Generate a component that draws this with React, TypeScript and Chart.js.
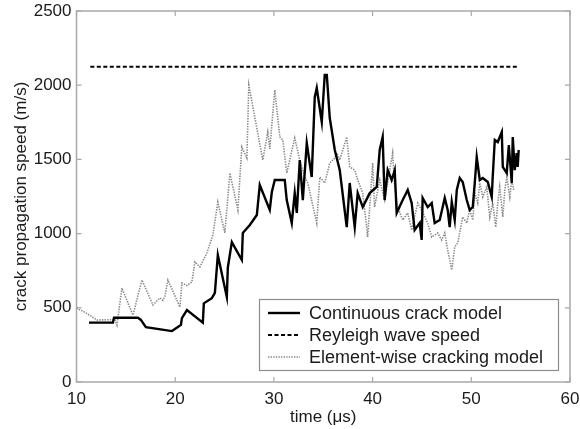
import React, { useEffect, useRef } from 'react';
import { Chart, registerables } from 'chart.js';

Chart.register(...registerables);

const continuousT = [11.27, 13.69, 13.8, 16.22, 16.5, 17.03, 19.67, 20.27, 20.58, 20.68, 21.19, 22.8, 22.9, 23.71, 24.02, 24.32, 25.23, 25.33, 25.74, 26.75, 26.85, 27.56, 28.27, 28.57, 29.58, 29.79, 30.09, 31.1, 31.3, 31.81, 32.11, 32.32, 32.62, 32.93, 33.33, 33.83, 34.14, 34.34, 34.85, 35.15, 35.36, 35.66, 36.17, 36.67, 37.38, 37.68, 38.19, 38.49, 39.0, 39.71, 40.42, 40.72, 41.02, 41.22, 41.53, 41.93, 42.24, 42.44, 43.05, 43.56, 43.96, 44.26, 44.77, 44.97, 45.07, 45.58, 45.99, 46.29, 46.8, 47.31, 47.61, 47.81, 48.02, 48.32, 48.53, 48.83, 49.13, 49.54, 49.84, 50.15, 50.35, 50.55, 50.86, 51.16, 51.67, 52.07, 52.17, 52.38, 52.68, 53.09, 53.19, 53.59, 53.8, 54.1, 54.2, 54.4, 54.6, 54.7, 54.8];
const continuousV = [400, 400, 433, 433, 420, 370, 343, 370, 385, 430, 485, 400, 530, 565, 600, 855, 573, 770, 943, 822, 1004, 1058, 1125, 1327, 1159, 1280, 1361, 1361, 1226, 1071, 1273, 1139, 1496, 1226, 1610, 1381, 1920, 1981, 1752, 2069, 2069, 1779, 1563, 1428, 1044, 1341, 1044, 1273, 1179, 1273, 1314, 1563, 1651, 1226, 1428, 1361, 1428, 1139, 1226, 1294, 1206, 1024, 1071, 957, 1240, 1179, 1206, 1071, 1092, 1240, 1159, 1044, 1213, 1092, 1294, 1375, 1348, 1226, 1159, 1179, 1341, 1516, 1361, 1375, 1348, 1247, 1381, 1631, 1617, 1685, 1449, 1408, 1597, 1341, 1651, 1428, 1543, 1449, 1563];

const elementT = [10.0, 10.86, 12.07, 13.9, 14.1, 14.6, 15.72, 16.63, 17.74, 18.45, 18.75, 18.96, 19.26, 20.48, 20.68, 21.19, 21.69, 22.0, 22.5, 23.21, 23.82, 24.32, 25.03, 25.54, 26.35, 26.75, 27.26, 27.46, 28.87, 29.38, 29.58, 30.09, 30.6, 30.9, 31.3, 32.11, 32.62, 33.13, 33.43, 34.34, 34.65, 35.15, 35.66, 36.17, 36.37, 36.67, 37.38, 37.68, 38.19, 38.49, 39.0, 39.4, 39.5, 40.01, 40.2, 40.72, 41.22, 42.03, 42.24, 42.54, 43.05, 43.56, 43.96, 44.57, 44.97, 45.58, 45.99, 46.6, 47.0, 47.31, 47.61, 48.02, 48.32, 48.63, 49.13, 49.54, 49.84, 50.15, 50.35, 50.65, 50.86, 51.16, 51.57, 51.87, 52.17, 52.48, 52.68, 52.88, 53.19, 53.4, 53.6, 53.9, 54.1, 54.3];
const elementV = [497, 470, 418, 420, 384, 633, 451, 687, 519, 566, 550, 580, 687, 505, 667, 650, 674, 809, 775, 869, 991, 1213, 1004, 1408, 1159, 1583, 1509, 2001, 1496, 1685, 1570, 1968, 1651, 1631, 1408, 1644, 1496, 1381, 1341, 1071, 1381, 1341, 1476, 1509, 1543, 1496, 1651, 1449, 1428, 1361, 1273, 1044, 977, 1476, 1179, 1361, 1226, 1543, 1314, 1179, 1092, 1139, 1024, 1206, 1159, 1071, 977, 1004, 957, 1004, 889, 755, 910, 937, 1112, 1071, 1159, 1092, 1273, 1206, 1341, 1247, 1314, 1112, 1206, 1044, 1206, 1314, 1112, 1294, 1381, 1247, 1361, 1294];

const rayleighT = [11.4, 54.8];
const rayleighV = [2125, 2125];

const xTickValues = [10, 20, 30, 40, 50, 60];
const yTickValues = [0, 500, 1000, 1500, 2000, 2500];

const seriesLabels = ['Continuous crack model', 'Reyleigh wave speed', 'Element-wise cracking model'];
const xTitle = 'time (\u03bcs)';
const yTitle = 'crack propagation speed (m/s)';

const FONT = "'Liberation Sans', Arial, Helvetica, sans-serif";
const TEXT = '#1a1a1a';
const FRAME = '#a8a8a8';

const toPoints = (t: number[], v: number[]) => t.map((x, i) => ({ x, y: v[i] }));

const styles = [
  { color: '#000000', width: 2.4, dash: [] as number[] },
  { color: '#000000', width: 2, dash: [4, 2.5] },
  { color: '#8a8a8a', width: 1.6, dash: [1.4, 1.2] },
];

const framePlugin = {
  id: 'frame',
  beforeDatasetsDraw(chart: any) {
    const { ctx, chartArea: a, scales } = chart;
    ctx.save();
    ctx.strokeStyle = FRAME;
    ctx.lineWidth = 1.5;
    ctx.strokeRect(a.left, a.top, a.right - a.left, a.bottom - a.top);
    ctx.lineWidth = 1.2;
    const tl = 5;
    xTickValues.forEach((v) => {
      const x = scales.x.getPixelForValue(v);
      ctx.beginPath();
      ctx.moveTo(x, a.bottom);
      ctx.lineTo(x, a.bottom - tl);
      ctx.moveTo(x, a.top);
      ctx.lineTo(x, a.top + tl);
      ctx.stroke();
    });
    yTickValues.forEach((v) => {
      const y = scales.y.getPixelForValue(v);
      ctx.beginPath();
      ctx.moveTo(a.left, y);
      ctx.lineTo(a.left + tl, y);
      ctx.moveTo(a.right, y);
      ctx.lineTo(a.right - tl, y);
      ctx.stroke();
    });
    ctx.restore();
  },
};

const legendPlugin = {
  id: 'boxLegend',
  afterDatasetsDraw(chart: any) {
    const { ctx } = chart;
    const bx = 259.5, by = 299.5, bw = 299, bh = 71;
    ctx.save();
    ctx.fillStyle = '#ffffff';
    ctx.fillRect(bx, by, bw, bh);
    ctx.strokeStyle = '#8c8c8c';
    ctx.lineWidth = 1.2;
    ctx.strokeRect(bx, by, bw, bh);
    const rows = [313, 335, 357];
    seriesLabels.forEach((label, i) => {
      const s = styles[i];
      ctx.beginPath();
      ctx.strokeStyle = s.color;
      ctx.lineWidth = s.width;
      ctx.setLineDash(s.dash);
      ctx.moveTo(268, rows[i]);
      ctx.lineTo(300, rows[i]);
      ctx.stroke();
      ctx.setLineDash([]);
      ctx.fillStyle = TEXT;
      ctx.font = `18px ${FONT}`;
      ctx.textBaseline = 'middle';
      ctx.textAlign = 'left';
      ctx.fillText(label, 309, rows[i] + 1);
    });
    ctx.restore();
  },
};

export default function App() {
  const ref = useRef<HTMLCanvasElement>(null);
  useEffect(() => {
    document.body.style.margin = '0';
    const canvas = ref.current!;
    const chart = new Chart(canvas, {
      type: 'line',
      data: {
        datasets: [
          {
            label: seriesLabels[0],
            data: toPoints(continuousT, continuousV),
            borderColor: styles[0].color,
            borderWidth: styles[0].width,
            borderDash: styles[0].dash,
            pointRadius: 0,
            tension: 0,
            fill: false,
          },
          {
            label: seriesLabels[1],
            data: toPoints(rayleighT, rayleighV),
            borderColor: styles[1].color,
            borderWidth: styles[1].width,
            borderDash: styles[1].dash,
            pointRadius: 0,
            tension: 0,
            fill: false,
          },
          {
            label: seriesLabels[2],
            data: toPoints(elementT, elementV),
            borderColor: styles[2].color,
            borderWidth: styles[2].width,
            borderDash: styles[2].dash,
            pointRadius: 0,
            tension: 0,
            fill: false,
          },
        ],
      },
      options: {
        animation: false,
        responsive: false,
        devicePixelRatio: 1,
        layout: { padding: { top: 11, right: 10, left: 0, bottom: 0 } },
        plugins: { legend: { display: false }, tooltip: { enabled: false } },
        scales: {
          x: {
            type: 'linear',
            min: 10,
            max: 60,
            afterBuildTicks: (s: any) => { s.ticks = xTickValues.map((v) => ({ value: v })); },
            afterFit: (s: any) => { s.height = 47; s.paddingLeft = 0; s.paddingRight = 0; },
            grid: { display: false, drawTicks: false },
            border: { display: false },
            ticks: { color: TEXT, font: { family: FONT, size: 17 }, padding: 7, maxRotation: 0, callback: (v: any) => String(v) },
            title: { display: true, text: xTitle, color: TEXT, font: { family: FONT, size: 17 }, padding: { top: 0, bottom: 1 } },
          },
          y: {
            type: 'linear',
            min: 0,
            max: 2500,
            afterBuildTicks: (s: any) => { s.ticks = yTickValues.map((v) => ({ value: v })); },
            afterFit: (s: any) => { s.width = 76.5; s.paddingTop = 0; s.paddingBottom = 0; },
            grid: { display: false, drawTicks: false },
            border: { display: false },
            ticks: { color: TEXT, font: { family: FONT, size: 17 }, padding: 5, callback: (v: any) => String(v) },
            title: { display: true, text: yTitle, color: TEXT, font: { family: FONT, size: 17 }, padding: { top: 11, bottom: 0 } },
          },
        },
      },
      plugins: [framePlugin, legendPlugin],
    } as any);
    return () => chart.destroy();
  }, []);
  return (
    <div style={{ width: 580, height: 429 }}>
      <canvas ref={ref} width={580} height={429} />
    </div>
  );
}
